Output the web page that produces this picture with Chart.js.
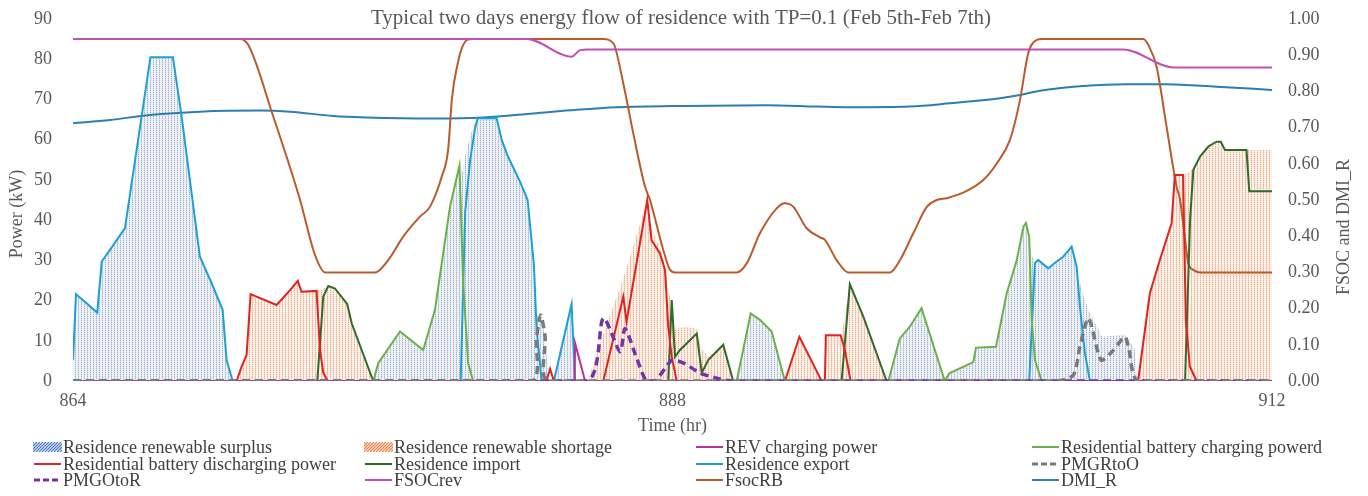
<!DOCTYPE html>
<html>
<head>
<meta charset="utf-8">
<script src="https://cdn.jsdelivr.net/npm/chart.js@4.4.1/dist/chart.umd.min.js"></script>
<style>
  body { margin: 0; background: #fff; }
  #quadro { position: relative; width: 1368px; height: 496px; overflow: hidden; }
  #legenda {
    position: absolute; left: 33px; top: 439px;
    display: grid; grid-template-columns: 331px 331px 336px 300px; grid-auto-rows: 16.5px;
    font: 18px "Liberation Serif", serif; color: #404040;
  }
  .item { display: flex; align-items: center; white-space: nowrap; line-height: 16.5px; }
  .item canvas { margin-right: 1px; }
</style>
</head>
<body>
<div id="quadro">
  <canvas id="grafico" width="1368" height="496"></canvas>
  <div id="legenda"></div>
</div>
<script>
// eixos
const horasTicks = [864, 888, 912];
const potenciaTicks = [0, 10, 20, 30, 40, 50, 60, 70, 80, 90];
const fracaoTicks = [0, 0.1, 0.2, 0.3, 0.4, 0.5, 0.6, 0.7, 0.8, 0.9, 1.0];

// series de potencia (kW), pares [hora, valor]
const surplus = [[864,5.2],[864.12,21.6],[864.97,17.0],[865.15,29.7],[865.48,32.6],[866.08,38.0],[867.1,80.5],[868.0,80.5],[868.35,65.7],[868.82,43.3],[869.08,30.9],[869.55,24.3],[869.99,17.7],[870.15,5.2],[870.39,0],
  [876.02,0],[876.22,4.4],[877.09,12.3],[878.02,7.7],[878.49,17.7],[879.09,43.3],[879.47,53.5],[879.6,52],[879.7,56],[879.9,61],[880.16,65.3],[880.96,65.3],[881.16,60],[881.4,56],[881.9,49.5],[882.2,45],[882.45,29],[882.56,16],[882.72,16.4],[882.9,11],[883.05,0],[883.25,0],[883.96,19.1],[884.1,0],
  [890.57,0],[891.13,16.8],[891.5,15.2],[891.97,12.3],[892.5,0],
  [896.64,0],[897.1,10.6],[897.5,13.5],[897.97,18.1],[898.9,0],[899.08,1.9],[900.04,4.7],[900.15,8.3],[900.95,8.5],[901.38,21.8],[901.78,30],[902.05,38.4],[902.15,39.3],[902.28,35.9],[902.4,31],[902.51,29.3],[902.64,30.1],[903.04,28],[903.38,29.7],[903.64,30.9],[903.98,33.4],[904.18,28.4],[904.4,22],[904.7,17],[905.2,11],[906.1,11.5],[906.5,8],[906.64,0],[912,0]];
const shortage = [[864,0],[870.55,0],[870.75,3.6],[870.95,6.5],[871.11,21.6],[872.15,18.9],[872.69,22.6],[873.0,24.9],[873.15,22.2],[873.75,22.4],[874.02,23],[874.22,23.6],[874.49,23],[874.98,19.1],[875.16,14.3],[876.02,0],
  [884.6,0],[885.3,13],[886.0,25],[886.5,35],[887.0,45],[887.16,38],[887.5,33],[887.7,29],[887.85,22],[887.97,20.1],[888.1,13],[888.5,13.5],[888.97,13],[889.17,8],[889.43,6],[890.03,9],[890.43,0],
  [892.5,0],[893.08,11],[893.97,0],[894.1,0],[894.14,11.4],[894.77,11.4],[895.1,24.1],[895.64,16],[896.57,0],
  [906.64,0],[907.11,21.8],[907.51,30.1],[907.98,39.2],[908.11,51.2],[908.44,51.2],[908.72,52],[908.85,53],[909.12,55.8],[909.45,58.3],[909.78,59.5],[909.95,59.5],[910.12,57.4],[912,57.4]];
const revCharging = [[864,0],[884.08,0],[884.1,9.4],[884.5,0],[912,0]];
const batteryCharging = [[864,0],[876.02,0],[876.22,4.4],[877.09,12.3],[878.02,7.7],[878.49,17.7],[879.09,43.3],[879.47,53.5],[879.62,24.3],[879.82,4.4],[880.02,0],
  [890.57,0],[891.13,16.8],[891.5,15.2],[891.97,12.3],[892.5,0],
  [896.64,0],[897.1,10.6],[897.5,13.5],[897.97,18.1],[898.9,0],[899.08,1.9],[900.04,4.7],[900.15,8.3],[900.95,8.5],[901.38,21.8],[901.78,30],[902.05,38.4],[902.15,39.3],[902.28,35.9],[902.38,15.2],[902.51,5.2],[902.78,0],[912,0]];
const batteryDischarging = [[864,0],[870.55,0],[870.75,3.6],[870.95,6.5],[871.11,21.6],[872.15,18.9],[872.69,22.6],[873.0,24.9],[873.15,22.2],[873.75,22.4],[873.89,7.7],[874.02,2],[874.2,0],
  [882.95,0],[883.1,3],[883.25,0],
  [885.23,0],[886.03,21],[886.16,14.7],[886.99,45],[887.16,35],[887.5,31.7],[887.7,27.6],[887.83,13.5],[887.97,6],[888.17,0],
  [892.5,0],[893.08,11],[893.97,0],[894.1,0],[894.14,11.4],[894.73,11.4],[894.9,7.7],[895.13,0],
  [906.64,0],[907.11,21.8],[907.51,30.1],[907.98,39.2],[908.11,51.2],[908.44,51.2],[908.55,15.2],[908.71,3.6],[908.98,0],[912,0]];
const residenceImport = [[864,0],[873.78,0],[874.02,21],[874.22,23.6],[874.49,23],[874.98,19.1],[875.16,14.3],[876.02,0],
  [887.83,0],[887.97,20.1],[888.1,6],[888.3,7.7],[888.97,11.8],[889.17,2],[889.43,5.2],[890.03,9],[890.43,0],
  [894.77,0],[895.1,24.1],[895.64,16],[896.57,0],
  [908.52,0],[908.72,40],[908.85,52.5],[909.12,55.8],[909.45,58.3],[909.78,59.5],[909.95,59.5],[910.12,57.4],[910.98,57.4],[911.09,47.2],[912,47.2]];
const residenceExport = [[864,5.2],[864.12,21.6],[864.97,17.0],[865.15,29.7],[865.48,32.6],[866.08,38.0],[867.1,80.5],[868.0,80.5],[868.35,65.7],[868.82,43.3],[869.08,30.9],[869.55,24.3],[869.99,17.7],[870.15,5.2],[870.39,0],
  [879.52,0],[879.7,42],[879.9,55],[880.1,63],[880.2,65.3],[880.96,65.3],[881.16,60],[881.4,56],[881.9,49.5],[882.2,45],[882.45,29],[882.56,13],[882.76,0],
  [883.25,0],[883.96,19.1],[884.1,0],
  [902.28,0],[902.51,29.3],[902.64,30.1],[903.04,28],[903.38,29.7],[903.64,30.9],[903.98,33.4],[904.18,28.4],[904.31,18.5],[904.51,6.9],[904.71,0],[912,0]];
const pmgrToO = [[864,0],[882.36,0],[882.56,11],[882.72,16.4],[882.9,11],[883.03,0],[903.38,0],[904.05,1.5],[904.31,8.5],[904.62,15.6],[904.75,14.3],[905.16,5.2],[905.6,7.3],[906.11,11],[906.25,8.5],[906.65,0],[912,0]];
const pmgoToR = [[864,0],[884.55,0],[885.23,15.6],[885.9,7.3],[886.1,13],[886.57,5.6],[886.95,0],[887.3,0],[887.97,5.2],[888.2,5],[888.5,4.3],[889.1,2],[889.9,0.5],[890.4,0],[912,0]];

// fracoes (eixo da direita)
const fsocRev = [[864,0.945],[882.16,0.945],[883.96,0.896],[884.3,0.914],[884.6,0.916],[906.05,0.916],[908.05,0.866],[912,0.866]];
const fsocRB = [[864,0.945],[870.69,0.945],[871.02,0.928],[872.02,0.73],[873.09,0.5],[873.62,0.362],[873.89,0.316],[874.09,0.30],[876.09,0.30],[876.62,0.334],[877.22,0.399],[877.89,0.454],[878.29,0.481],[878.76,0.564],[879.02,0.64],[879.17,0.78],[879.41,0.88],[879.57,0.92],[879.77,0.942],[880.0,0.945],
  [885.23,0.945],[885.63,0.933],[886.03,0.822],[886.43,0.684],[886.9,0.537],[887.1,0.5],[887.63,0.362],[887.9,0.307],[888.1,0.30],[890.57,0.30],[890.97,0.325],[891.5,0.408],[892.17,0.477],[892.5,0.491],[892.84,0.481],[893.37,0.422],[893.9,0.397],[894.1,0.39],[894.57,0.334],[895.04,0.30],
  [896.71,0.30],[897.11,0.334],[897.64,0.408],[898.18,0.481],[898.58,0.5],[898.98,0.505],[899.78,0.525],[900.44,0.555],[900.98,0.601],[901.51,0.666],[901.91,0.776],[902.24,0.905],[902.58,0.942],[902.8,0.945],
  [906.85,0.945],[907.05,0.928],[907.38,0.868],[907.78,0.702],[908.18,0.537],[908.32,0.5],[908.52,0.39],[908.65,0.325],[908.85,0.307],[909.12,0.30],[912,0.30]];
const dmiR = [[864,0.712],[865.48,0.721],[867.08,0.735],[869.08,0.744],[871.49,0.747],[872.69,0.744],[874.42,0.732],[875.76,0.728],[878.42,0.725],[880.43,0.728],[882.43,0.739],[884.16,0.749],[885.77,0.756],[888.43,0.76],[891.77,0.762],[893.77,0.758],[895.1,0.756],[897.5,0.758],[899.11,0.767],[901.11,0.781],[901.91,0.79],[902.71,0.802],[904.44,0.815],[906.18,0.82],[907.78,0.82],[909.78,0.813],[912,0.804]];

const titulo = 'Typical two days energy flow of residence with TP=0.1 (Feb 5th-Feb 7th)';
const fonte = '"Liberation Serif", serif';
const cinza = '#595959';

const canvas = document.getElementById('grafico');
const ctx = canvas.getContext('2d');

// textura pontilhada das areas
function pontilhado(fundo, ponto, meio) {
  const t = document.createElement('canvas');
  t.width = 3; t.height = 2;
  const g = t.getContext('2d');
  g.fillStyle = fundo; g.fillRect(0, 0, 3, 2);
  g.fillStyle = ponto; g.fillRect(0, 0, 1, 1);
  g.fillStyle = meio; g.fillRect(0, 1, 1, 1);
  return ctx.createPattern(t, 'repeat');
}

const pts = a => a.map(([x, y]) => ({x, y}));

function area(label, dados, textura, hachura) {
  return { label, data: pts(dados), yAxisID: 'y', fill: 'origin', backgroundColor: textura,
    borderWidth: 0, pointRadius: 0, order: 2, hachura };
}
function linha(label, dados, cor, eixo, extra) {
  return Object.assign({ label, data: pts(dados), yAxisID: eixo, borderColor: cor, backgroundColor: cor,
    borderWidth: 2, pointRadius: 0, fill: false, order: 1, tension: 0 }, extra || {});
}

const tracejado = { borderWidth: 3.5, borderDash: [8, 5], order: 0, tension: 0.25 };
const suave = { cubicInterpolationMode: 'monotone' };

const datasets = [
  area('Residence renewable surplus', surplus, pontilhado('#edf1f6', '#a6b5cb', '#d3dbe6'), '#4f7cc4'),
  area('Residence renewable shortage', shortage, pontilhado('#fcefe7', '#e9b092', '#f5d5c3'), '#e8854a'),
  linha('REV charging power', revCharging, '#b8329e', 'y'),
  linha('Residential battery charging powerd', batteryCharging, '#6bb04a', 'y'),
  linha('Residential battery discharging power', batteryDischarging, '#e0231f', 'y'),
  linha('Residence import', residenceImport, '#2f6a2b', 'y'),
  linha('Residence export', residenceExport, '#1e9fd6', 'y'),
  linha('PMGRtoO', pmgrToO, '#7a7a7a', 'y', tracejado),
  linha('PMGOtoR', pmgoToR, '#7434a8', 'y', tracejado),
  linha('FSOCrev', fsocRev, '#c04fb6', 'y1', suave),
  linha('FsocRB', fsocRB, '#bb5a2a', 'y1', suave),
  linha('DMI_R', dmiR, '#2b7db2', 'y1', suave)
];

const textos = {
  id: 'textos',
  afterDraw(chart) {
    const c = chart.ctx;
    c.save();
    c.fillStyle = cinza;
    c.textAlign = 'center';
    c.textBaseline = 'middle';
    c.font = '21px ' + fonte;
    c.fillText(titulo, 681, 18);
    c.font = '18px ' + fonte;
    c.save(); c.translate(17, 214); c.rotate(-Math.PI / 2); c.fillText('Power (kW)', 0, 0); c.restore();
    c.save(); c.translate(1344, 227); c.rotate(-Math.PI / 2); c.fillText('FSOC and DMI_R', 0, 0); c.restore();
    c.restore();
  }
};

const ticksFixos = lista => scale => { scale.ticks = lista.map(v => ({ value: v })); };
// largura fixa do eixo, sem folga extra em cima/baixo
const larguraFixa = w => s => { s.width = w; s.paddingTop = 0; s.paddingBottom = 0; };

const grafico = new Chart(ctx, {
  type: 'line',
  data: { datasets },
  options: {
    responsive: false,
    animation: false,
    devicePixelRatio: 1,
    layout: { padding: { top: 19, bottom: 55, left: 0, right: 0 } },
    plugins: { legend: { display: false }, tooltip: { enabled: false }, title: { display: false } },
    scales: {
      x: {
        type: 'linear', min: 864, max: 912,
        afterBuildTicks: ticksFixos(horasTicks),
        afterFit: s => { s.height = 60; },
        grid: { display: false, drawTicks: false },
        border: { display: false },
        ticks: { color: cinza, font: { family: fonte, size: 18 }, padding: 9, maxRotation: 0 },
        title: { display: true, text: 'Time (hr)', color: cinza, font: { family: fonte, size: 18 }, padding: { top: 0, bottom: 4 } }
      },
      y: {
        position: 'left', min: 0, max: 90,
        afterBuildTicks: ticksFixos(potenciaTicks),
        afterFit: larguraFixa(73),
        grid: { display: false, drawTicks: false },
        border: { display: false },
        ticks: { color: cinza, font: { family: fonte, size: 18 }, padding: 21 }
      },
      y1: {
        position: 'right', min: 0, max: 1,
        afterBuildTicks: ticksFixos(fracaoTicks),
        afterFit: larguraFixa(96),
        grid: { display: false, drawTicks: false },
        border: { display: false },
        ticks: { color: cinza, font: { family: fonte, size: 18 }, padding: 16, callback: v => v.toFixed(2) }
      }
    }
  },
  plugins: [textos]
});

// legenda em 4 colunas
function amostra(ds) {
  const c = document.createElement('canvas');
  c.width = 29; c.height = 12;
  const g = c.getContext('2d');
  if (ds.hachura) {
    g.fillStyle = '#ffffff'; g.fillRect(0, 1, 29, 10);
    g.save(); g.beginPath(); g.rect(0, 1, 29, 10); g.clip();
    g.strokeStyle = ds.hachura; g.lineWidth = 1.3;
    g.beginPath();
    for (let i = -12; i < 32; i += 3) { g.moveTo(i, 11); g.lineTo(i + 10, 1); }
    g.stroke(); g.restore();
  } else {
    g.strokeStyle = ds.borderColor;
    g.lineWidth = ds.borderDash ? 3 : 2;
    g.setLineDash(ds.borderDash ? [6, 3] : []);
    g.beginPath(); g.moveTo(1, 6); g.lineTo(28, 6); g.stroke();
  }
  return c;
}

const legenda = document.getElementById('legenda');
grafico.data.datasets.forEach(ds => {
  const item = document.createElement('div');
  item.className = 'item';
  item.appendChild(amostra(ds));
  item.appendChild(document.createTextNode(ds.label));
  legenda.appendChild(item);
});
</script>
</body>
</html>
